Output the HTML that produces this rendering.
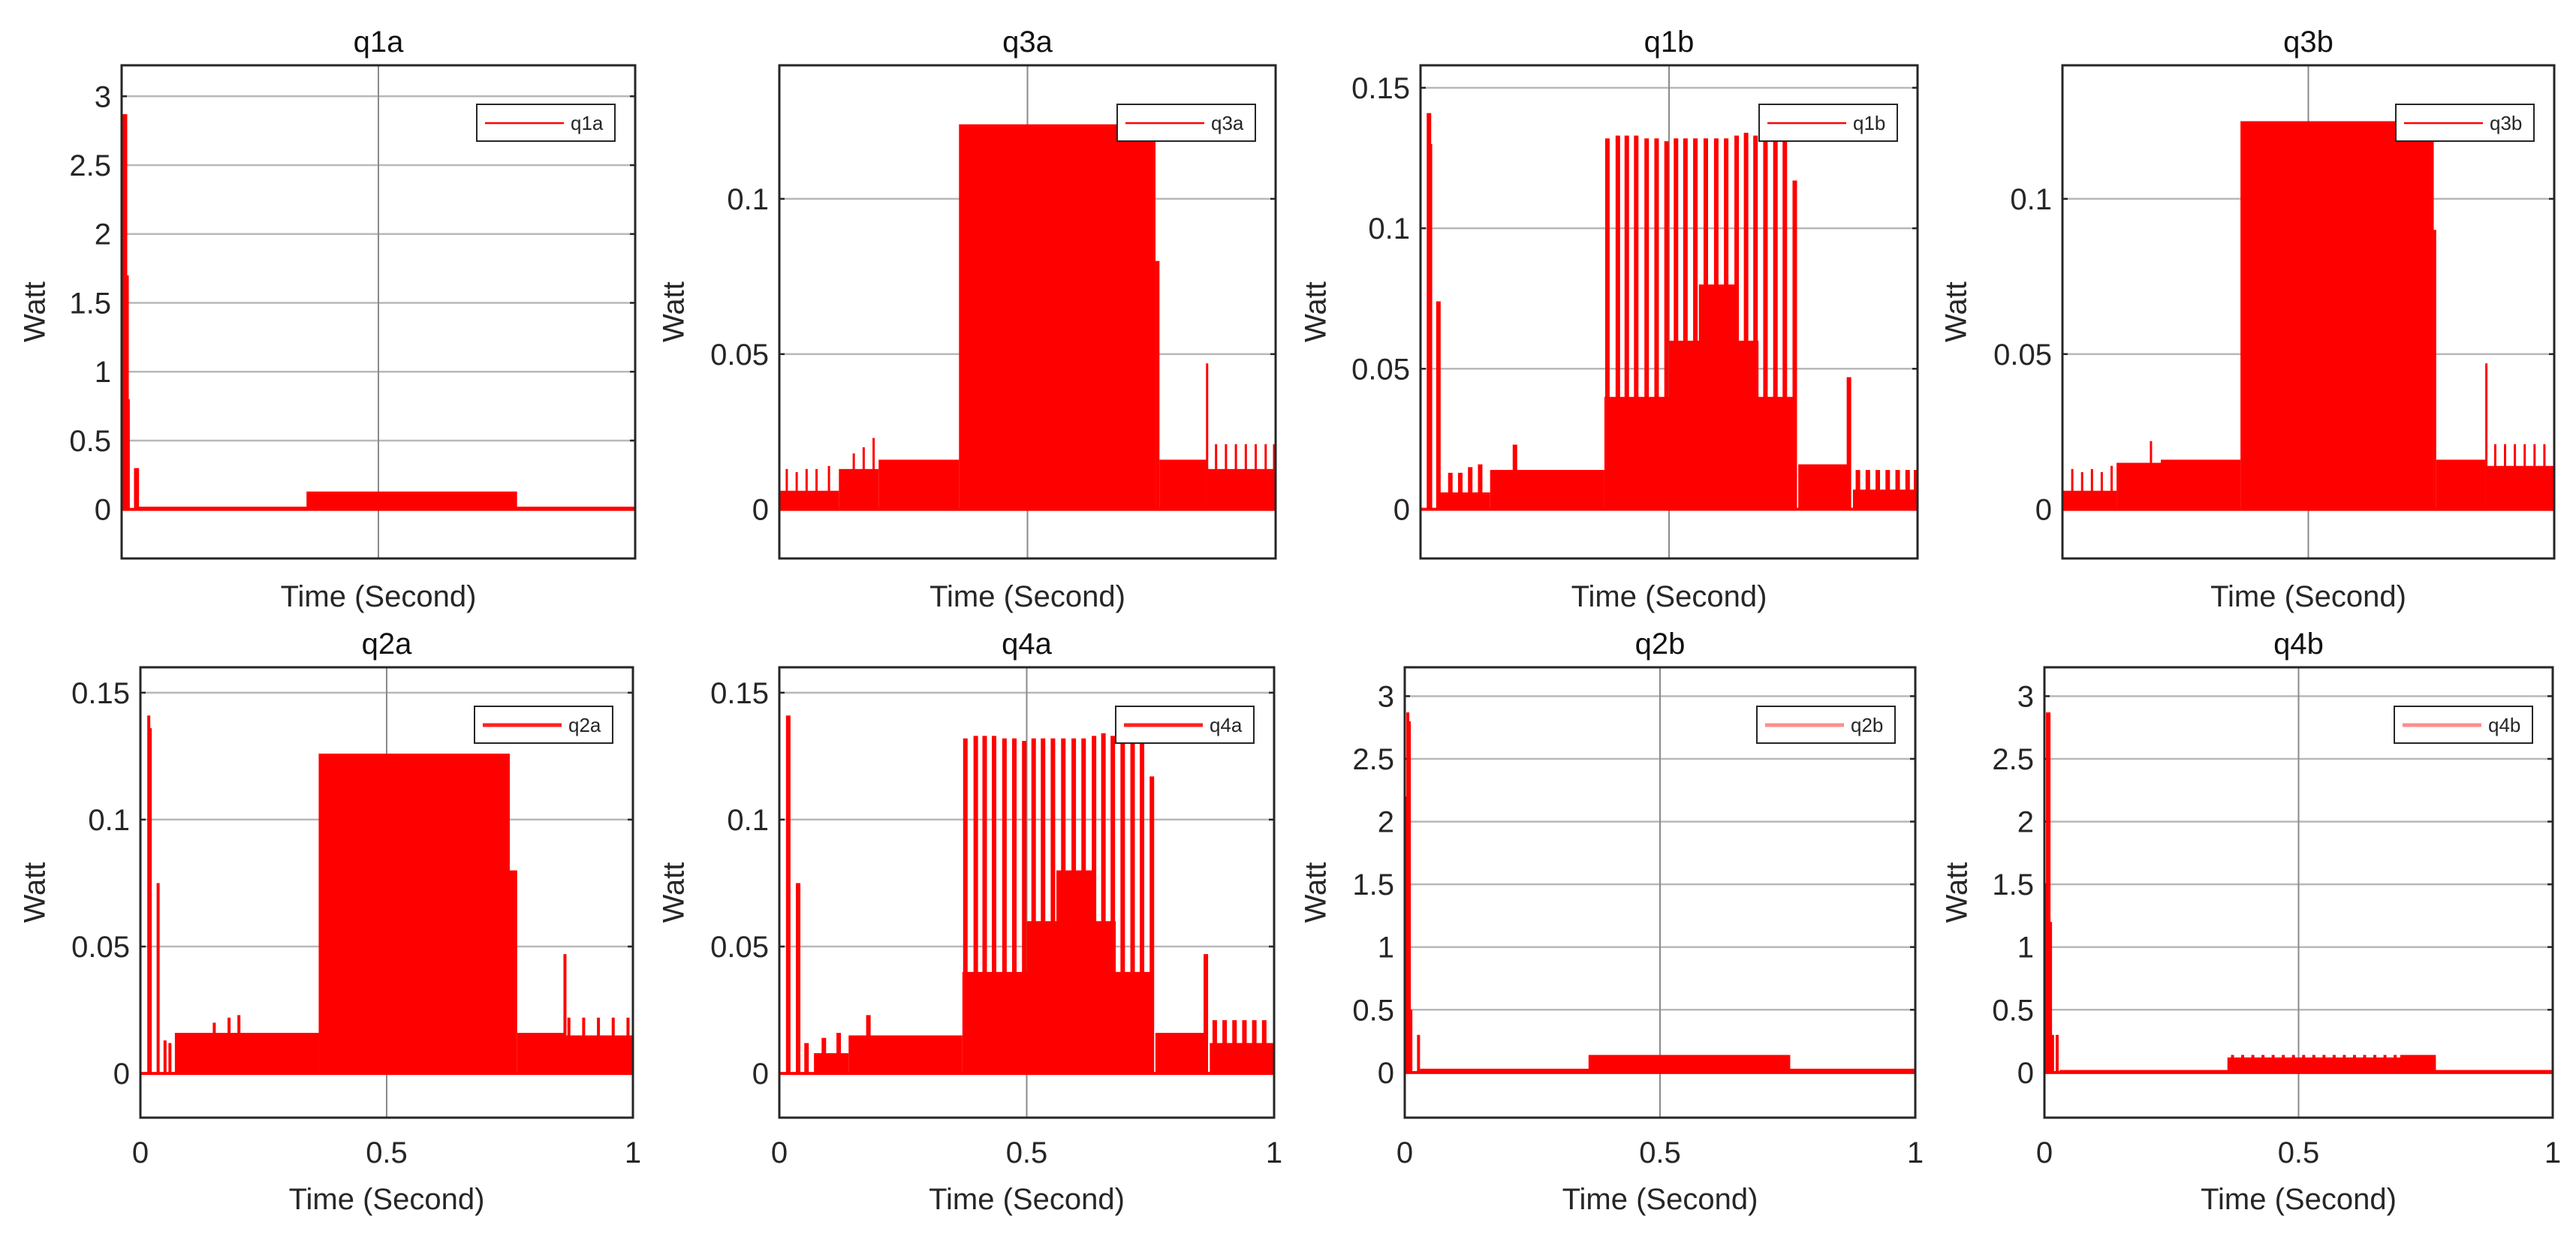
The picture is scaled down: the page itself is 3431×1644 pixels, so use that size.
<!DOCTYPE html>
<html><head><meta charset="utf-8"><style>
html,body{margin:0;padding:0;background:#fff;}
svg{display:block;font-family:"Liberation Sans",Arial,sans-serif;}
</style></head><body>
<svg id="fig" width="3431" height="1644" viewBox="0 0 3431 1644" xmlns="http://www.w3.org/2000/svg"></svg>
<script>
// ---- data ----
const xTicks = [0, 0.5, 1];
const xTickLabels = ["0", "0.5", "1"];
const bigTicks = [0, 0.5, 1, 1.5, 2, 2.5, 3];
const bigTickLabels = ["0", "0.5", "1", "1.5", "2", "2.5", "3"];
const midTicks = [0, 0.05, 0.1];
const midTickLabels = ["0", "0.05", "0.1"];
const smallTicks = [0, 0.05, 0.1, 0.15];
const smallTickLabels = ["0", "0.05", "0.1", "0.15"];

// q1a
const q1a_segT0 = [0.03, 0.36];
const q1a_segT1 = [1.0, 0.77];
const q1a_segV  = [0.02, 0.13];
const q1a_spkT = [0.003, 0.005, 0.008, 0.011, 0.013, 0.027, 0.031];
const q1a_spkV = [2.0, 2.87, 2.87, 1.7, 0.8, 0.3, 0.3];
// q3a
const q3a_segT0 = [0.0, 0.12, 0.2, 0.362, 0.758, 0.766, 0.86];
const q3a_segT1 = [0.12, 0.2, 0.362, 0.758, 0.766, 0.86, 1.0];
const q3a_segV  = [0.006, 0.013, 0.016, 0.124, 0.08, 0.016, 0.013];
const q3a_spkT = [0.015, 0.035, 0.055, 0.075, 0.1, 0.15, 0.17, 0.19, 0.862, 0.88, 0.9, 0.92, 0.94, 0.96, 0.98, 0.997];
const q3a_spkV = [0.013, 0.012, 0.013, 0.013, 0.014, 0.018, 0.02, 0.023, 0.047, 0.021, 0.021, 0.021, 0.021, 0.021, 0.021, 0.021];
// q1b
const q1b_segT0 = [0.04, 0.14, 0.37, 0.5, 0.56, 0.76, 0.87];
const q1b_segT1 = [0.14, 0.37, 0.755, 0.68, 0.64, 0.86, 1.0];
const q1b_segV  = [0.006, 0.014, 0.04, 0.06, 0.08, 0.016, 0.007];
const q1b_spkT = [0.017, 0.019, 0.036, 0.06, 0.08, 0.1, 0.12, 0.19, 0.376, 0.397, 0.415, 0.434, 0.455, 0.475, 0.495, 0.514, 0.533, 0.553, 0.574, 0.595, 0.615, 0.636, 0.655, 0.674, 0.694, 0.714, 0.733, 0.753, 0.862, 0.88, 0.9, 0.92, 0.94, 0.96, 0.98, 0.997];
const q1b_spkV = [0.141, 0.13, 0.074, 0.013, 0.013, 0.015, 0.016, 0.023, 0.132, 0.133, 0.133, 0.133, 0.132, 0.132, 0.131, 0.132, 0.132, 0.132, 0.132, 0.132, 0.132, 0.133, 0.134, 0.133, 0.133, 0.132, 0.131, 0.117, 0.047, 0.014, 0.014, 0.014, 0.014, 0.014, 0.014, 0.014];
// q3b
const q3b_segT0 = [0.0, 0.11, 0.2, 0.362, 0.755, 0.76, 0.86];
const q3b_segT1 = [0.11, 0.2, 0.362, 0.755, 0.76, 0.86, 1.0];
const q3b_segV  = [0.006, 0.015, 0.016, 0.125, 0.09, 0.016, 0.014];
const q3b_spkT = [0.02, 0.04, 0.06, 0.08, 0.1, 0.18, 0.862, 0.88, 0.9, 0.92, 0.94, 0.96, 0.98];
const q3b_spkV = [0.013, 0.012, 0.013, 0.012, 0.014, 0.022, 0.047, 0.021, 0.021, 0.021, 0.021, 0.021, 0.021];
// q2a
const q2a_segT0 = [0.07, 0.2, 0.362, 0.75, 0.765, 0.86];
const q2a_segT1 = [0.2, 0.362, 0.75, 0.765, 0.86, 1.0];
const q2a_segV  = [0.016, 0.016, 0.126, 0.08, 0.016, 0.015];
const q2a_spkT = [0.017, 0.02, 0.036, 0.05, 0.06, 0.15, 0.18, 0.2, 0.862, 0.87, 0.9, 0.93, 0.96, 0.99];
const q2a_spkV = [0.141, 0.136, 0.075, 0.013, 0.012, 0.02, 0.022, 0.023, 0.047, 0.022, 0.022, 0.022, 0.022, 0.022];
// q4a
const q4a_segT0 = [0.07, 0.14, 0.37, 0.5, 0.56, 0.76, 0.87];
const q4a_segT1 = [0.14, 0.37, 0.755, 0.68, 0.64, 0.86, 1.0];
const q4a_segV  = [0.008, 0.015, 0.04, 0.06, 0.08, 0.016, 0.012];
const q4a_spkT = [0.018, 0.038, 0.055, 0.09, 0.12, 0.18, 0.376, 0.397, 0.415, 0.434, 0.455, 0.475, 0.495, 0.514, 0.533, 0.553, 0.574, 0.595, 0.615, 0.636, 0.655, 0.674, 0.694, 0.714, 0.733, 0.753, 0.862, 0.88, 0.9, 0.92, 0.94, 0.96, 0.98];
const q4a_spkV = [0.141, 0.075, 0.012, 0.014, 0.016, 0.023, 0.132, 0.133, 0.133, 0.133, 0.132, 0.132, 0.131, 0.132, 0.132, 0.132, 0.132, 0.132, 0.132, 0.133, 0.134, 0.133, 0.133, 0.132, 0.131, 0.117, 0.047, 0.021, 0.021, 0.021, 0.021, 0.021, 0.021];
// q2b
const q2b_segT0 = [0.03, 0.36];
const q2b_segT1 = [1.0, 0.755];
const q2b_segV  = [0.03, 0.14];
const q2b_spkT = [0.003, 0.006, 0.009, 0.012, 0.027];
const q2b_spkV = [2.2, 2.87, 2.8, 0.5, 0.3];
// q4b
const q4b_segT0 = [0.03, 0.36, 0.7];
const q4b_segT1 = [1.0, 0.77, 0.77];
const q4b_segV  = [0.02, 0.12, 0.14];
const q4b_spkT = [0.003, 0.006, 0.009, 0.012, 0.016, 0.025, 0.37, 0.39, 0.41, 0.43, 0.45, 0.47, 0.49, 0.51, 0.53, 0.55, 0.57, 0.59, 0.61, 0.63, 0.65, 0.67, 0.69];
const q4b_spkV = [1.5, 2.87, 2.87, 1.2, 0.3, 0.3, 0.14, 0.14, 0.14, 0.14, 0.14, 0.14, 0.14, 0.14, 0.14, 0.14, 0.14, 0.14, 0.14, 0.14, 0.14, 0.14, 0.14];

// ---- layout ----
const NS = "http://www.w3.org/2000/svg";
const svg = document.getElementById('fig');
function mk(tag, attrs, parent) {
  const e = document.createElementNS(NS, tag);
  for (const k in attrs) e.setAttribute(k, attrs[k]);
  (parent || svg).appendChild(e);
  return e;
}
const panels = [
  {id:'q1a', x0:162, x1:846, y0:87, y1:744, ylo:-0.356, yhi:3.225, t:bigTicks, tl:bigTickLabels, xt:false, wx:-113, lg:'thin', s:[q1a_segT0,q1a_segT1,q1a_segV,q1a_spkT,q1a_spkV], sw:4},
  {id:'q3a', x0:1038, x1:1699, y0:87, y1:744, ylo:-0.0158, yhi:0.143, t:midTicks, tl:midTickLabels, xt:false, wx:-138, lg:'thin', s:[q3a_segT0,q3a_segT1,q3a_segV,q3a_spkT,q3a_spkV], sw:3},
  {id:'q1b', x0:1892, x1:2554, y0:87, y1:744, ylo:-0.0175, yhi:0.158, t:smallTicks, tl:smallTickLabels, xt:false, wx:-137, lg:'thin', s:[q1b_segT0,q1b_segT1,q1b_segV,q1b_spkT,q1b_spkV], sw:6},
  {id:'q3b', x0:2747, x1:3402, y0:87, y1:744, ylo:-0.0158, yhi:0.143, t:midTicks, tl:midTickLabels, xt:false, wx:-139, lg:'thin', s:[q3b_segT0,q3b_segT1,q3b_segV,q3b_spkT,q3b_spkV], sw:3},
  {id:'q2a', x0:187, x1:843, y0:889, y1:1489, ylo:-0.0174, yhi:0.16, t:smallTicks, tl:smallTickLabels, xt:true, wx:-138, lg:'thick', s:[q2a_segT0,q2a_segT1,q2a_segV,q2a_spkT,q2a_spkV], sw:4},
  {id:'q4a', x0:1038, x1:1697, y0:889, y1:1489, ylo:-0.0174, yhi:0.16, t:smallTicks, tl:smallTickLabels, xt:true, wx:-138, lg:'thick', s:[q4a_segT0,q4a_segT1,q4a_segV,q4a_spkT,q4a_spkV], sw:6},
  {id:'q2b', x0:1871, x1:2551, y0:889, y1:1489, ylo:-0.36, yhi:3.23, t:bigTicks, tl:bigTickLabels, xt:true, wx:-116, lg:'pink', s:[q2b_segT0,q2b_segT1,q2b_segV,q2b_spkT,q2b_spkV], sw:4},
  {id:'q4b', x0:2723, x1:3400, y0:889, y1:1489, ylo:-0.36, yhi:3.23, t:bigTicks, tl:bigTickLabels, xt:true, wx:-114, lg:'pink', s:[q4b_segT0,q4b_segT1,q4b_segV,q4b_spkT,q4b_spkV], sw:4}
];

panels.forEach(p => {
  const g = mk('g', {});
  
  
  const X = v => p.x0 + v * (p.x1 - p.x0);
  const Y = v => p.y1 - (v - p.ylo) / (p.yhi - p.ylo) * (p.y1 - p.y0);
  p.t.forEach((tv, i) => {
    const gl = mk('line', {x1:p.x0, x2:p.x1, y1:Y(tv), y2:Y(tv), stroke:'#b8b8b8', 'stroke-width':2.5}, g);
    
    
    const lb = mk('text', {x:p.x0 - 14, y:Y(tv) + 14, 'text-anchor':'end', 'font-size':40, fill:'#262626'}, g);
    lb.textContent = p.tl[i];
    
    
    mk('line', {x1:p.x0, x2:p.x0 + 7, y1:Y(tv), y2:Y(tv), stroke:'#262626', 'stroke-width':2.5}, g);
    mk('line', {x1:p.x1, x2:p.x1 - 7, y1:Y(tv), y2:Y(tv), stroke:'#262626', 'stroke-width':2.5}, g);
  });
  const vg = mk('line', {x1:X(0.5), x2:X(0.5), y1:p.y0, y2:p.y1, stroke:'#8a8a8a', 'stroke-width':2}, g);
  
  
  if (p.xt) {
    xTicks.forEach((tv, i) => {
      const lb = mk('text', {x:X(tv), y:p.y1 + 60, 'text-anchor':'middle', 'font-size':40, fill:'#262626'}, g);
      lb.textContent = xTickLabels[i];
      
      
    });
  }
  const [s0, s1, sv, kt, kv] = p.s;
  const ser = mk('g', {fill:'#ff0000', stroke:'#ff0000'}, g);
  
  
  mk('line', {x1:p.x0, x2:p.x1, y1:Y(0), y2:Y(0), 'stroke-width':4}, ser);
  for (let i = 0; i < s0.length; i++) {
    const r = mk('rect', {x:X(s0[i]), y:Y(sv[i]), width:X(s1[i]) - X(s0[i]), height:Y(0) - Y(sv[i]), stroke:'none'}, ser);
    
    
  }
  for (let i = 0; i < kt.length; i++) {
    const l = mk('line', {x1:X(kt[i]), x2:X(kt[i]), y1:Y(0), y2:Y(kv[i]), 'stroke-width':p.sw}, ser);
    
    
  }
  const box = mk('rect', {x:p.x0, y:p.y0, width:p.x1 - p.x0, height:p.y1 - p.y0, fill:'none', stroke:'#262626', 'stroke-width':3}, g);
  
  
  const lx1 = p.x1 - 27, lx0 = lx1 - 184, ly0 = p.y0 + 52;
  const lg = mk('g', {}, g);
  
  
  mk('rect', {x:lx0, y:ly0, width:184, height:49, fill:'#fff', stroke:'#262626', 'stroke-width':2}, lg);
  const lc = p.lg === 'pink' ? '#ff8c8c' : (p.lg === 'thick' ? '#ff2020' : '#ff0000');
  const lw = p.lg === 'thin' ? 2.5 : 5;
  mk('line', {x1:lx0 + 11, x2:lx0 + 116, y1:ly0 + 25, y2:ly0 + 25, stroke:lc, 'stroke-width':lw}, lg);
  const lt = mk('text', {x:lx0 + 125, y:ly0 + 34, 'font-size':26, fill:'#262626'}, lg);
  lt.textContent = p.id;
  const tt = mk('text', {x:(p.x0 + p.x1) / 2, y:p.y0 - 18, 'text-anchor':'middle', 'font-size':40, fill:'#111'}, g);
  tt.textContent = p.id;
  
  
  const xl = mk('text', {x:(p.x0 + p.x1) / 2, y:p.y1 + (p.xt ? 122 : 64), 'text-anchor':'middle', 'font-size':40, fill:'#262626'}, g);
  xl.textContent = 'Time (Second)';
  
  
  const cy = (p.y0 + p.y1) / 2;
  const yl = mk('text', {x:p.x0 + p.wx, y:cy, 'text-anchor':'middle', 'font-size':40, fill:'#262626', transform:'rotate(-90 ' + (p.x0 + p.wx) + ' ' + cy + ')', 'dominant-baseline':'middle'}, g);
  yl.textContent = 'Watt';
  
  
});
</script>
</body></html>
